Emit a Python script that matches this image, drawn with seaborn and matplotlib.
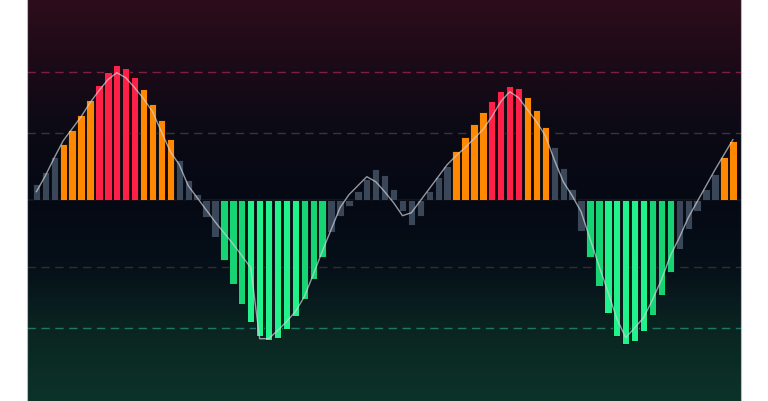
import numpy as np
import pandas as pd
import matplotlib
matplotlib.use("Agg")
import matplotlib.pyplot as plt
import seaborn as sns
from matplotlib.colors import LinearSegmentedColormap

# ---- data ----
bar_values = [16, 28, 43, 56, 70, 85, 100, 115, 128, 135, 132, 123, 111, 96, 80, 61,
              40, 20, 6, -17, -37, -60, -84, -104, -122, -136, -140, -138, -129, -116,
              -99, -79, -57, -32, -16, -6, 9, 21, 31, 25, 11, -11, -25, -16, 9, 23,
              34, 49, 63, 76, 88, 99, 109, 114, 112, 103, 90, 73, 53, 32, 11, -31,
              -57, -86, -113, -136, -144, -141, -131, -115, -95, -72, -49, -29, -11,
              11, 26, 43, 59]
line_values = [8, 24, 42, 59, 71, 83, 97, 109, 120, 127, 122, 112, 101, 88, 68, 48,
               35, 14, 2, -10, -22, -33, -44, -56, -68, -139, -139, -131, -122, -112,
               -97, -75, -52, -30, -8, 5, 14, 23, 18, 8, -3, -16, -13, -1, 11, 23,
               35, 44, 52, 61, 70, 83, 98, 108, 102, 90, 78, 64, 40, 18, 4, -12,
               -39, -66, -92, -119, -138, -128, -118, -100, -80, -56, -38, -18, -2,
               14, 30, 45, 60]
zones = (["neutral"] * 3 + ["warm"] * 4 + ["hot"] * 5 + ["warm"] * 4 + ["neutral"] * 5
         + ["cool"] * 3 + ["cold"] * 6 + ["cool"] * 3 + ["neutral"] * 14
         + ["warm"] * 4 + ["hot"] * 4 + ["warm"] * 3 + ["neutral"] * 4
         + ["cool"] * 2 + ["cold"] * 5 + ["cool"] * 3 + ["neutral"] * 5 + ["warm"] * 2)
levels = [128, 67, -67, -128]
level_colors = ["#7d1f42", "#3b3440", "#3a2a2c", "#1f7866"]

palette = {"neutral": "#3a4759", "warm": "#ff8800", "hot": "#ff2047",
           "cool": "#16d474", "cold": "#21f28c"}

n = len(bar_values)
df = pd.DataFrame({"idx": np.arange(n), "value": bar_values, "zone": zones})

fig = plt.figure(figsize=(7.68, 4.02), dpi=100, facecolor="white")
ax = fig.add_axes([26.7 / 768, 0, 714.3 / 768, 1])

x0, x1 = -1.09, n - 1 + 0.91
y0, y1 = -201.3, 200.7

# background gradient
cmap = LinearSegmentedColormap.from_list(
    "bg",
    [(0.0, "#2d0d1b"), (0.18, "#1a0a17"), (0.33, "#0b0a15"), (0.5, "#050914"),
     (0.67, "#061019"), (0.82, "#0a2521"), (1.0, "#0c3329")])
grad = np.linspace(0, 1, 256).reshape(-1, 1)
ax.imshow(grad, extent=[x0, x1, y0, y1], aspect="auto", cmap=cmap, zorder=0,
          origin="upper")

for lv, lc in zip(levels, level_colors):
    ax.axhline(lv, color=lc, lw=1, ls=(0, (6, 4)), zorder=0.5)
ax.axhline(0, color="#151a26", lw=1.2, zorder=0.6)

sns.barplot(data=df, x="idx", y="value", hue="zone", palette=palette, dodge=False,
            width=0.82, saturation=1, edgecolor="#060810", linewidth=0.6,
            legend=False, ax=ax, zorder=2)
sns.lineplot(x=np.arange(n), y=line_values, ax=ax, color="#d0d4dc", lw=1.0,
             alpha=0.7, zorder=3)

ax.set_xlim(x0, x1)
ax.set_ylim(y0, y1)
ax.set_xticks([])
ax.set_yticks([])
ax.set_xlabel("")
ax.set_ylabel("")
for s in ["top", "bottom"]:
    ax.spines[s].set_visible(False)
for s in ["left", "right"]:
    ax.spines[s].set_color("#b8bcc4")
    ax.spines[s].set_linewidth(0.8)

fig.savefig("out.png", dpi=100, facecolor="white")
